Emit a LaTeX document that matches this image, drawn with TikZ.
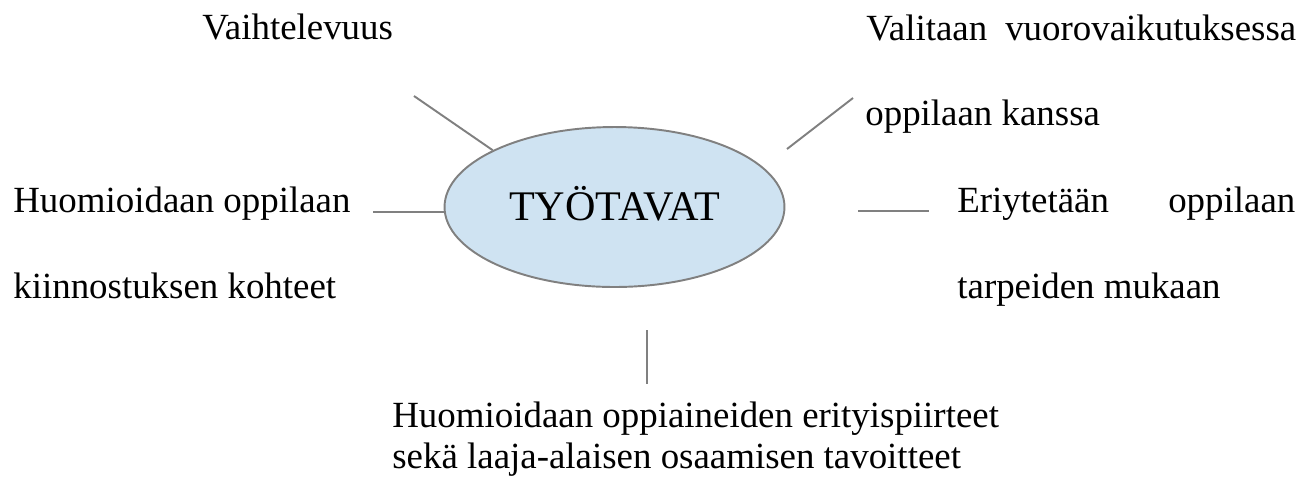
\documentclass[tikz,border=0pt]{standalone}
\usepackage{fontspec}
\setmainfont{Liberation Serif}
\usepackage{tikz}
\usetikzlibrary{shapes.geometric, positioning}
\definecolor{hubfill}{RGB}{207,227,242}
\definecolor{hubline}{RGB}{128,128,128}
\tikzset{%
    % The central ellipse
    hub/.style   = {ellipse, draw=hubline, line width=1.1pt, fill=hubfill,
    minimum width=6.8cm, minimum height=3.2cm, inner sep=0pt,
    text height=0.62cm, text depth=0.1cm,
    font=\fontsize{24}{28}\selectfont},
    % Texts round it
    txt/.style   = {anchor=base west, inner sep=0pt,
    font=\fontsize{21}{25}\selectfont},
    % Plain lines
    spoke/.style = {draw=hubline, line width=1.1pt}
}

\begin{document}
\begin{tikzpicture}[x=0.02cm, y=-0.02cm]
	\useasboundingbox (0,0) rectangle (1311,478);
	\node[hub] (tyo) at (614.5,207) {TYÖTAVAT};

	\node[txt] (vaiht) at (202,39) {Vaihtelevuus};
	\node[txt] (valit1) at (866,40) {\makebox[8.6cm][s]{Valitaan vuorovaikutuksessa}};
	\node[txt] (valit2) at (865,125) {oppilaan kanssa};
	\node[txt] (huom1) at (13,212) {Huomioidaan oppilaan};
	\node[txt] (huom2) at (13,298) {kiinnostuksen kohteet};
	\node[txt] (eri1) at (957,212) {\makebox[6.76cm][s]{Eriytetään oppilaan}};
	\node[txt] (eri2) at (957,298) {tarpeiden mukaan};
	\node[txt] (aine1) at (392,427) {Huomioidaan oppiaineiden erityispiirteet};
	\node[txt] (aine2) at (392,468) {sekä laaja-alaisen osaamisen tavoitteet};

	% free ends of the lines
	\coordinate (vaihtL) at (414,96);
	\coordinate (valitA) at (787,149);
	\coordinate (valitB) at (853,98);
	\coordinate (huomL) at (373,212);
	\coordinate (eriA) at (858,211);
	\coordinate (eriB) at (929,211);
	\coordinate (aineA) at (647,330);
	\coordinate (aineB) at (647,384);

	\draw[spoke] (vaihtL) -- (tyo.155);
	\draw[spoke] (valitA) -- (valitB);
	\draw[spoke] (huomL) -- (huomL -| tyo.west);
	\draw[spoke] (eriA) -- (eriB);
	\draw[spoke] (aineA) -- (aineB);
\end{tikzpicture}
\end{document}
